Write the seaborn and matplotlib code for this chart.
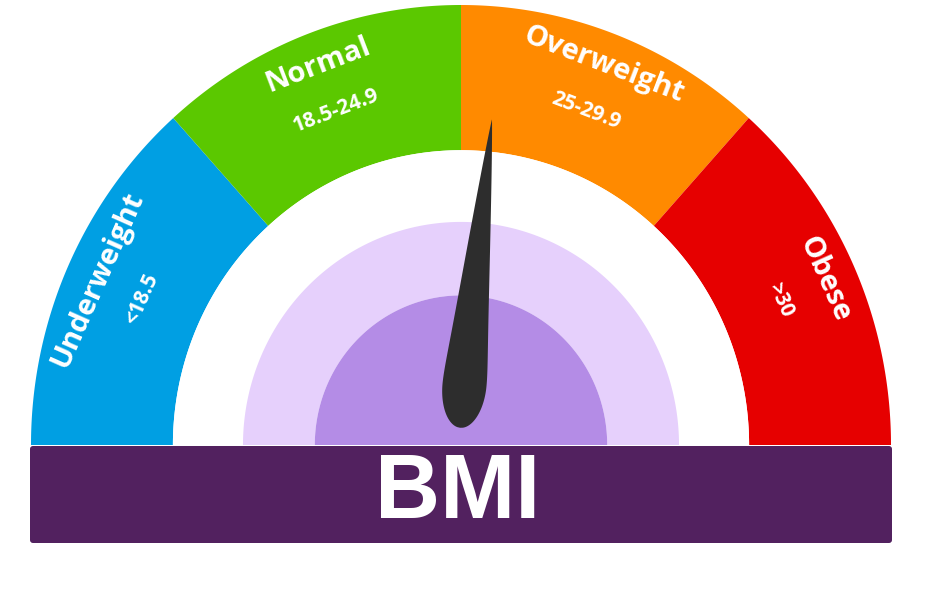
import numpy as np
import matplotlib
matplotlib.use("Agg")
import matplotlib.pyplot as plt
import seaborn as sns
from matplotlib.patches import FancyBboxPatch

# ---- data ----
categories = ["Underweight", "Normal", "Overweight", "Obese"]
ranges = ["<18.5", "18.5-24.9", "25-29.9", ">30"]
bounds_deg = [180, 132, 90, 48, 0]
seg_colors = ["#009fe3", "#5bc800", "#ff8a00", "#e60000"]
needle_deg = 84.1
title_text = "BMI"

sns.set_theme(style="white")
plt.rcParams['font.family'] = ['Open Sans', 'DejaVu Sans']

W, H = 933, 592
fig = plt.figure(figsize=(W / 100, H / 100), dpi=100)
fig.patch.set_facecolor("white")
ax = fig.add_axes([0, 0, 1, 1])
ax.set_xlim(0, W)
ax.set_ylim(H, 0)
ax.axis("off")

# geometry (pixel units)
CX, CY = 461, 445
RX, RY = 430, 440
R_COLOR_IN = 0.67
R_WHITE_IN = 0.507
R_LIGHT_IN = 0.34


def band(a0, a1, r_in, r_out, color, z=1):
    th = np.radians(np.linspace(a0, a1, 300))
    xo = CX + r_out * RX * np.cos(th)
    yo = CY - r_out * RY * np.sin(th)
    xi = CX + r_in * RX * np.cos(th[::-1])
    yi = CY - r_in * RY * np.sin(th[::-1])
    ax.fill(np.concatenate([xo, xi]), np.concatenate([yo, yi]),
            color=color, lw=0, zorder=z)


# coloured segments
for i, c in enumerate(seg_colors):
    band(bounds_deg[i + 1], bounds_deg[i], R_COLOR_IN, 1.0, c, z=1)
band(0, 180, R_WHITE_IN, R_COLOR_IN, "white", z=1)
band(0, 180, R_LIGHT_IN, R_WHITE_IN, "#e6d0fc", z=1)
band(0, 180, 0.0, R_LIGHT_IN, "#b48ce6", z=1)

# labels
for i, (cat, rg) in enumerate(zip(categories, ranges)):
    mid = (bounds_deg[i] + bounds_deg[i + 1]) / 2
    th = np.radians(mid)
    rot = mid - 90
    x1 = CX + 0.925 * RX * np.cos(th)
    y1 = CY - 0.925 * RY * np.sin(th)
    ax.text(x1, y1, cat, color="white", fontsize=21, fontweight="bold",
            rotation=rot, rotation_mode="anchor", ha="center", va="center", zorder=3)
    x2 = CX + 0.813 * RX * np.cos(th)
    y2 = CY - 0.813 * RY * np.sin(th)
    ax.text(x2, y2, rg, color="white", fontsize=15, fontweight="bold",
            rotation=rot, rotation_mode="anchor", ha="center", va="center", zorder=3)

# bottom bar
bar = FancyBboxPatch((30, 446), 862, 97, boxstyle="round,pad=0,rounding_size=3",
                     fc="#52215f", ec="none", zorder=2)
ax.add_patch(bar)
ax.text(CX - 3, 495, title_text, color="white", fontsize=65, fontweight="bold",
        family=["Liberation Sans", "DejaVu Sans"],
        ha="center", va="center", zorder=3)

# needle (teardrop): widest point P, tapering to tip, elliptical tail
PX, PY = 464.5, 385
L, R, TAIL = 267, 22, 43
a = np.radians(needle_deg)
u = np.array([np.cos(a), -np.sin(a)])
n = np.array([np.sin(a), np.cos(a)])
P = np.array([PX, PY])
t_tail = np.linspace(-TAIL, 0, 120, endpoint=False)
w_tail = R * np.sqrt(np.clip(1 - (t_tail / TAIL) ** 2, 0, 1))
t_head = np.linspace(0, L, 300)
s = t_head / L
w_head = R * (1 - s) ** 0.9 * (1 + 0.9 * s * np.exp(-s / 0.08))
t = np.concatenate([t_tail, t_head])
w = np.concatenate([w_tail, w_head])
left = P + np.outer(t, u) + np.outer(w, n)
right = P + np.outer(t, u) - np.outer(w, n)
pts = np.vstack([right[::-1], left])
ax.fill(pts[:, 0], pts[:, 1], color="#2d2d2d", lw=0, zorder=4)

fig.savefig("out.png", dpi=100, facecolor="white")
